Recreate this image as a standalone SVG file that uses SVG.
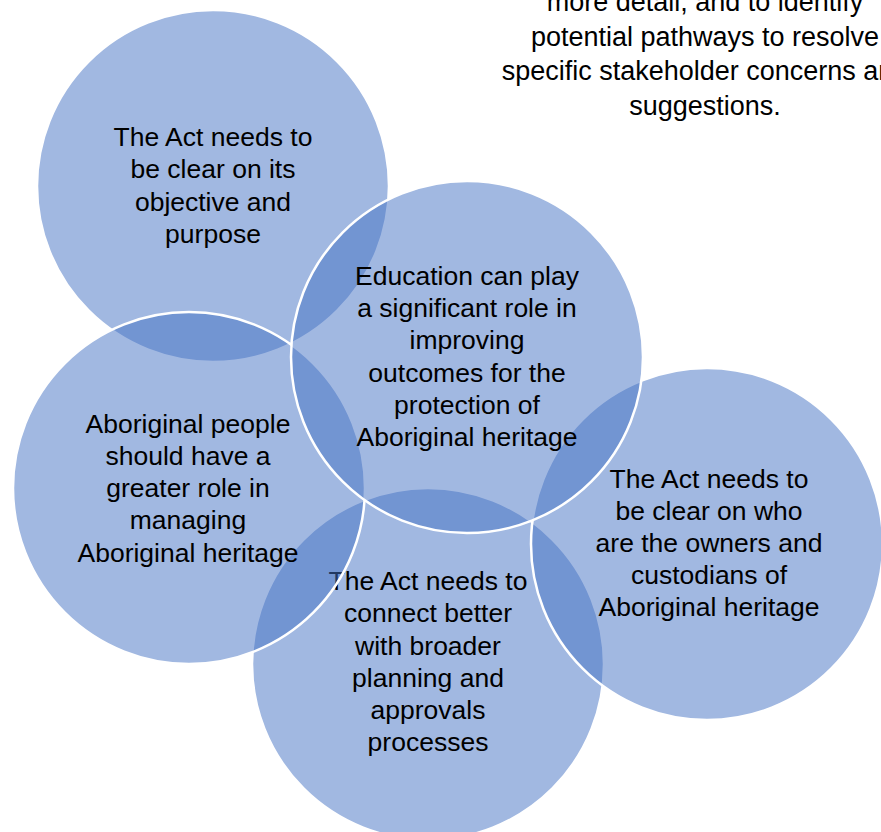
<svg xmlns="http://www.w3.org/2000/svg" width="881" height="832" viewBox="0 0 881 832">
<style>
.c{fill:#4472C4;fill-opacity:0.5;stroke:#FFFFFF;stroke-width:2.5}
.t{font-family:"Liberation Sans",Arial,sans-serif;font-size:26.5px;fill:#000;text-anchor:middle}
.top{font-family:"Liberation Sans",Arial,sans-serif;font-size:27px;fill:#000;text-anchor:middle}
</style>
<rect width="881" height="832" fill="#FFFFFF"/>
<g id="intro-text">
<text class="top" x="705" y="11">more detail, and to identify</text>
<text class="top" x="705" y="46">potential pathways to resolve</text>
<text class="top" x="705" y="80">specific stakeholder concerns and</text>
<text class="top" x="705" y="115">suggestions.</text>
</g>
<g id="connectors"/>
<g id="node-objective">
<circle class="c" cx="213" cy="186" r="176"/>
<text class="t" x="213" y="146">The Act needs to</text>
<text class="t" x="213" y="178">be clear on its</text>
<text class="t" x="213" y="211">objective and</text>
<text class="t" x="213" y="243">purpose</text>
</g>
<g id="node-planning">
<circle class="c" cx="428" cy="664" r="176"/>
<text class="t" x="428" y="590">The Act needs to</text>
<text class="t" x="428" y="622">connect better</text>
<text class="t" x="428" y="655">with broader</text>
<text class="t" x="428" y="687">planning and</text>
<text class="t" x="428" y="719">approvals</text>
<text class="t" x="428" y="751">processes</text>
</g>
<g id="node-owners">
<circle class="c" cx="707" cy="544" r="176"/>
<text class="t" x="709" y="488">The Act needs to</text>
<text class="t" x="709" y="520">be clear on who</text>
<text class="t" x="709" y="552">are the owners and</text>
<text class="t" x="709" y="584">custodians of</text>
<text class="t" x="709" y="616">Aboriginal heritage</text>
</g>
<g id="node-aboriginal-role">
<circle class="c" cx="189" cy="488" r="176"/>
<text class="t" x="188" y="433">Aboriginal people</text>
<text class="t" x="188" y="465">should have a</text>
<text class="t" x="188" y="497">greater role in</text>
<text class="t" x="188" y="529">managing</text>
<text class="t" x="188" y="562">Aboriginal heritage</text>
</g>
<g id="node-education">
<circle class="c" cx="467" cy="357" r="176"/>
<text class="t" x="467" y="285">Education can play</text>
<text class="t" x="467" y="317">a significant role in</text>
<text class="t" x="467" y="349">improving</text>
<text class="t" x="467" y="382">outcomes for the</text>
<text class="t" x="467" y="414">protection of</text>
<text class="t" x="467" y="446">Aboriginal heritage</text>
</g>
</svg>
